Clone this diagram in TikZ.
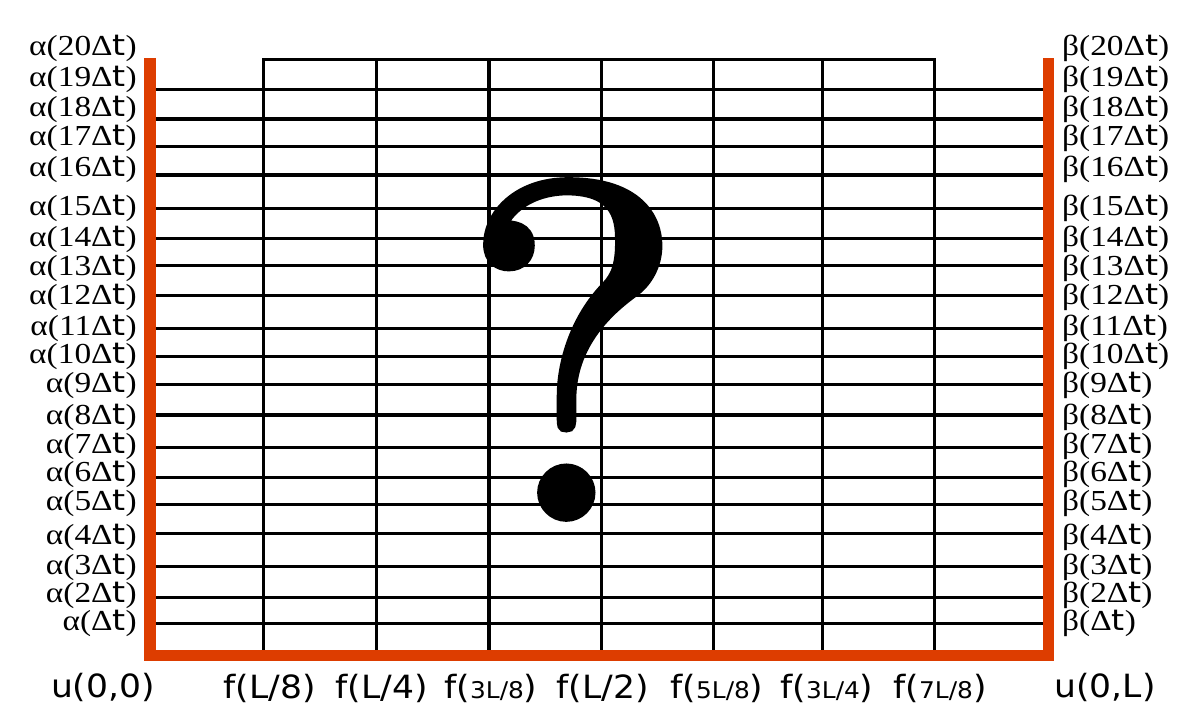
\documentclass[tikz,border=0pt]{standalone}
\usepackage{fontspec}
\usepackage{graphicx}
\newfontfamily\libser{Liberation Serif}
\newfontfamily\vsans{DejaVu Sans}
\newfontfamily\qfont{lmroman10-regular.otf}[FakeBold=1.6]
\definecolor{bar}{RGB}{221,61,0}
\newcommand\smtxt[1]{{\fontsize{23pt}{23pt}\selectfont #1}}
\newcommand\wide[1]{\scalebox{1.08}[1]{#1}}
\newcommand\twide[1]{\scalebox{1.15}[1]{#1}}
\begin{document}
\begin{tikzpicture}[x=1pt,y=-1pt,
  gridline/.style={line width=3.2pt,draw=black},
  wall/.style={line width=11.5pt,draw=bar,line join=miter},
  tlab/.style={inner sep=0pt,font=\libser\fontsize{29pt}{29pt}\selectfont},
  blab/.style={inner sep=0pt,font=\vsans\fontsize{32pt}{32pt}\selectfont}]
\useasboundingbox (0,0) rectangle (1200,725);
% horizontal grid lines
\foreach \y in {89.3,119,146.7,175,208.3,238.3,265.7,295.7,328.3,356.7,384.3,415,447.3,477.3,504.3,533.3,566.7,597.7,623.3}
  \draw[gridline] (150,\y) -- (1048,\y);
% top frame of inner columns
\draw[gridline,line width=2.6pt] (263.5,655) -- (263.5,59.3) -- (934.5,59.3) -- (934.5,655);
\foreach \x in {376.5,489,601.5,713.3,822.3}
  \draw[gridline] (\x,59.3) -- (\x,655);
% question mark
\node[inner sep=0pt,anchor=base,font=\qfont\fontsize{478pt}{478pt}\selectfont] (q) at (573,518) {?};
% orange boundary
\draw[wall] (150,58) -- (150,655.5) -- (1048.5,655.5) -- (1048.5,58);
% side labels
\foreach \n/\y in {20/48,19/79,18/109,17/138,16/169,15/208,14/239,13/268,12/297,11/328,10/356,9/385,8/417,7/446,6/474,5/503,4/537,3/567,2/595,1/623}{
  \node[tlab,anchor=east] (a\n) at (137,\y) {\twide{α(\ifnum\n=1 \else\n\fi Δ{\vsans t})}};
  \node[tlab,anchor=west] (b\n) at (1062,\y) {\twide{β(\ifnum\n=1 \else\n\fi Δ{\vsans t})}};
}
% bottom labels
\node[blab] (u0) at (103,687) {\wide{u(0,0)}};
\node[blab] (f1) at (269.5,688) {\wide{f(L/8)}};
\node[blab] (f2) at (381.5,688) {\wide{f(L/4)}};
\node[blab] (f3) at (491,688) {\wide{f(\smtxt{3L/8})}};
\node[blab] (f4) at (602.5,688) {\wide{f(L/2)}};
\node[blab] (f5) at (717,688) {\wide{f(\smtxt{5L/8})}};
\node[blab] (f6) at (827,688) {\wide{f(\smtxt{3L/4})}};
\node[blab] (f7) at (940,688) {\wide{f(\smtxt{7L/8})}};
\node[blab] (uL) at (1105,687) {\wide{u(0,L)}};
\end{tikzpicture}
\end{document}
